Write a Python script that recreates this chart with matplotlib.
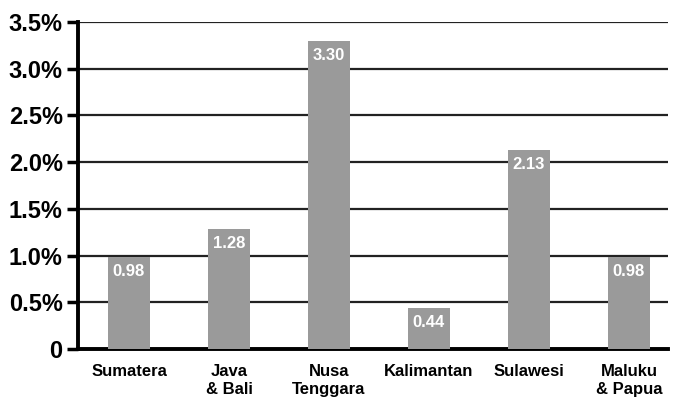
import matplotlib.pyplot as plt
from matplotlib.ticker import FuncFormatter

regions = ["Sumatera", "Java\n& Bali", "Nusa\nTenggara", "Kalimantan", "Sulawesi", "Maluku\n& Papua"]
rates = [0.98, 1.28, 3.30, 0.44, 2.13, 0.98]
yticks = [0, 0.5, 1.0, 1.5, 2.0, 2.5, 3.0, 3.5]

bar_color = "#9a9a9a"

fig = plt.figure(figsize=(6.76, 4.0), dpi=100)
ax = fig.add_axes([0.1154, 0.1275, 0.8726, 0.8175])

x = list(range(len(regions)))
ax.bar(x, rates, width=0.42, color=bar_color, zorder=3)

# value labels inside the bar tops
for xi, v in zip(x, rates):
    ax.annotate(f"{v:.2f}", (xi, v), xytext=(0, -5), textcoords="offset points",
                ha="center", va="top", color="white", fontsize=12,
                fontweight="bold", family="Liberation Sans", zorder=4)

ax.set_xlim(-0.51, 5.39)
ax.set_ylim(0, 3.5)
ax.set_yticks(yticks)
ax.yaxis.set_major_formatter(FuncFormatter(lambda v, p: "0" if v == 0 else f"{v:.1f}%"))
ax.yaxis.grid(True, color="#222222", linewidth=1.6, zorder=1)
ax.set_axisbelow(True)

ax.set_xticks(x)
ax.set_xticklabels(regions, fontsize=12, fontweight="bold",
                   family="Liberation Sans", linespacing=1.25, va="top")
ax.tick_params(axis="x", length=0, pad=11)
ax.tick_params(axis="y", length=8, width=2.5, pad=3, direction="out")
for lab in ax.get_yticklabels():
    lab.set_fontsize(17)
    lab.set_fontweight("bold")
    lab.set_family("Liberation Sans")

ax.spines["top"].set_visible(False)
ax.spines["right"].set_visible(False)
ax.spines["left"].set_linewidth(2.8)
ax.spines["bottom"].set_linewidth(2.8)

fig.savefig("out.png", dpi=100)
